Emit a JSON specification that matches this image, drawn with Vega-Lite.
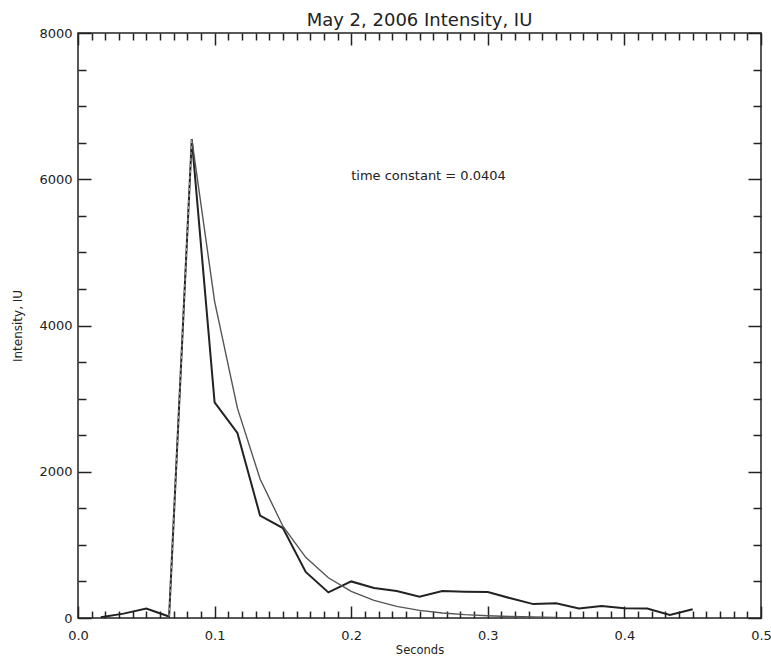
{
  "$schema": "https://vega.github.io/schema/vega-lite/v6.json",
  "autosize": {"type": "none"},
  "width": 683,
  "height": 585,
  "padding": {"left": 78, "top": 33, "right": 10, "bottom": 38},
  "background": "white",
  "config": {
    "view": {"stroke": "#222", "strokeWidth": 1.5},
    "font": "DejaVu Sans"
  },
  "title": {
    "text": "May 2, 2006 Intensity, IU",
    "fontSize": 18,
    "fontWeight": "normal",
    "font": "DejaVu Sans",
    "color": "#222",
    "offset": -3
  },
  "datasets": {
    "measured": [
      {"t": 0.0167, "v": 10},
      {"t": 0.0333, "v": 60},
      {"t": 0.05, "v": 130},
      {"t": 0.0667, "v": 20},
      {"t": 0.0833, "v": 6550},
      {"t": 0.1, "v": 2950},
      {"t": 0.1167, "v": 2530},
      {"t": 0.1333, "v": 1400},
      {"t": 0.15, "v": 1230},
      {"t": 0.1667, "v": 630},
      {"t": 0.1833, "v": 350},
      {"t": 0.2, "v": 500},
      {"t": 0.2167, "v": 410},
      {"t": 0.2333, "v": 370},
      {"t": 0.25, "v": 290},
      {"t": 0.2667, "v": 370},
      {"t": 0.2833, "v": 360},
      {"t": 0.3, "v": 355},
      {"t": 0.3167, "v": 270},
      {"t": 0.3333, "v": 190},
      {"t": 0.35, "v": 200},
      {"t": 0.3667, "v": 130},
      {"t": 0.3833, "v": 165},
      {"t": 0.4, "v": 135},
      {"t": 0.4167, "v": 130},
      {"t": 0.4333, "v": 40},
      {"t": 0.45, "v": 120}
    ],
    "fit": [
      {"t": 0.0833, "v": 6550},
      {"t": 0.1, "v": 4330},
      {"t": 0.1167, "v": 2870},
      {"t": 0.1333, "v": 1900},
      {"t": 0.15, "v": 1255},
      {"t": 0.1667, "v": 830},
      {"t": 0.1833, "v": 550},
      {"t": 0.2, "v": 363},
      {"t": 0.2167, "v": 240},
      {"t": 0.2333, "v": 159},
      {"t": 0.25, "v": 105},
      {"t": 0.2667, "v": 69},
      {"t": 0.2833, "v": 46},
      {"t": 0.3, "v": 30},
      {"t": 0.3167, "v": 20},
      {"t": 0.3333, "v": 13},
      {"t": 0.35, "v": 9}
    ],
    "rise": [
      {"t": 0.0667, "v": 20},
      {"t": 0.0833, "v": 6550}
    ],
    "note": [
      {"t": 0.2, "v": 6050, "label": "time constant = 0.0404"}
    ]
  },
  "resolve": {"axis": {"x": "independent", "y": "independent"}},
  "layer": [
    {
      "data": {"name": "measured"},
      "mark": {"type": "line", "color": "#222", "strokeWidth": 2},
      "encoding": {
        "x": {
          "field": "t", "type": "quantitative",
          "scale": {"domain": [0, 0.5], "nice": false, "zero": false},
          "axis": {
            "orient": "bottom",
            "title": "Seconds",
            "titleFont": "DejaVu Sans", "titleFontSize": 11.5, "titleFontWeight": "normal", "titleColor": "#222",
            "titlePadding": -3,
            "values": [0,0.01,0.02,0.03,0.04,0.05,0.06,0.07,0.08,0.09,0.1,0.11,0.12,0.13,0.14,0.15,0.16,0.17,0.18,0.19,0.2,0.21,0.22,0.23,0.24,0.25,0.26,0.27,0.28,0.29,0.3,0.31,0.32,0.33,0.34,0.35,0.36,0.37,0.38,0.39,0.4,0.41,0.42,0.43,0.44,0.45,0.46,0.47,0.48,0.49,0.5],
            "labelExpr": "abs(datum.value*10 - round(datum.value*10)) < 0.001 ? format(datum.value, '.1f') : ''",
            "labelFont": "DejaVu Sans", "labelFontSize": 13, "labelColor": "#222",
            "labelPadding": 23,
            "labelFlush": false,
            "labelOverlap": false,
            "tickSize": {"condition": {"test": "abs(datum.value*10 - round(datum.value*10)) < 0.001", "value": -12}, "value": -7},
            "tickColor": "#222", "tickWidth": 1.5,
            "domain": false, "grid": false
          }
        },
        "y": {
          "field": "v", "type": "quantitative",
          "scale": {"domain": [0, 8000], "nice": false},
          "axis": {
            "orient": "left",
            "title": "Intensity, IU",
            "titleFont": "DejaVu Sans", "titleFontSize": 12, "titleFontWeight": "normal", "titleColor": "#222",
            "titlePadding": 14,
            "values": [0,500,1000,1500,2000,2500,3000,3500,4000,4500,5000,5500,6000,6500,7000,7500,8000],
            "labelExpr": "datum.value % 2000 === 0 ? format(datum.value, 'd') : ''",
            "labelFont": "DejaVu Sans", "labelFontSize": 13, "labelColor": "#222",
            "labelPadding": 19,
            "labelFlush": false,
            "labelOverlap": false,
            "tickSize": {"condition": {"test": "datum.value % 2000 === 0", "value": -13}, "value": -8},
            "tickColor": "#222", "tickWidth": 1.5,
            "domain": false, "grid": false
          }
        }
      }
    },
    {
      "data": {"name": "fit"},
      "mark": {"type": "line", "color": "#555", "strokeWidth": 1.4},
      "encoding": {
        "x": {"field": "t", "type": "quantitative", "axis": null},
        "y": {"field": "v", "type": "quantitative", "axis": null}
      }
    },
    {
      "data": {"name": "rise"},
      "mark": {"type": "line", "color": "#aaa", "strokeWidth": 1, "strokeDash": [3, 3]},
      "encoding": {
        "x": {
          "field": "t", "type": "quantitative",
          "axis": {
            "orient": "top",
            "title": null,
            "values": [0,0.01,0.02,0.03,0.04,0.05,0.06,0.07,0.08,0.09,0.1,0.11,0.12,0.13,0.14,0.15,0.16,0.17,0.18,0.19,0.2,0.21,0.22,0.23,0.24,0.25,0.26,0.27,0.28,0.29,0.3,0.31,0.32,0.33,0.34,0.35,0.36,0.37,0.38,0.39,0.4,0.41,0.42,0.43,0.44,0.45,0.46,0.47,0.48,0.49,0.5],
            "labels": false,
            "tickSize": {"condition": {"test": "abs(datum.value*10 - round(datum.value*10)) < 0.001", "value": -12}, "value": -7},
            "tickColor": "#222", "tickWidth": 1.5,
            "domain": false, "grid": false
          }
        },
        "y": {
          "field": "v", "type": "quantitative",
          "axis": {
            "orient": "right",
            "title": null,
            "values": [0,500,1000,1500,2000,2500,3000,3500,4000,4500,5000,5500,6000,6500,7000,7500,8000],
            "labels": false,
            "tickSize": {"condition": {"test": "datum.value % 2000 === 0", "value": -13}, "value": -8},
            "tickColor": "#222", "tickWidth": 1.5,
            "domain": false, "grid": false
          }
        }
      }
    },
    {
      "data": {"name": "note"},
      "mark": {"type": "text", "align": "left", "baseline": "middle", "font": "DejaVu Sans", "fontSize": 13, "color": "#222"},
      "encoding": {
        "x": {"field": "t", "type": "quantitative", "axis": null},
        "y": {"field": "v", "type": "quantitative", "axis": null},
        "text": {"field": "label"}
      }
    }
  ]
}
